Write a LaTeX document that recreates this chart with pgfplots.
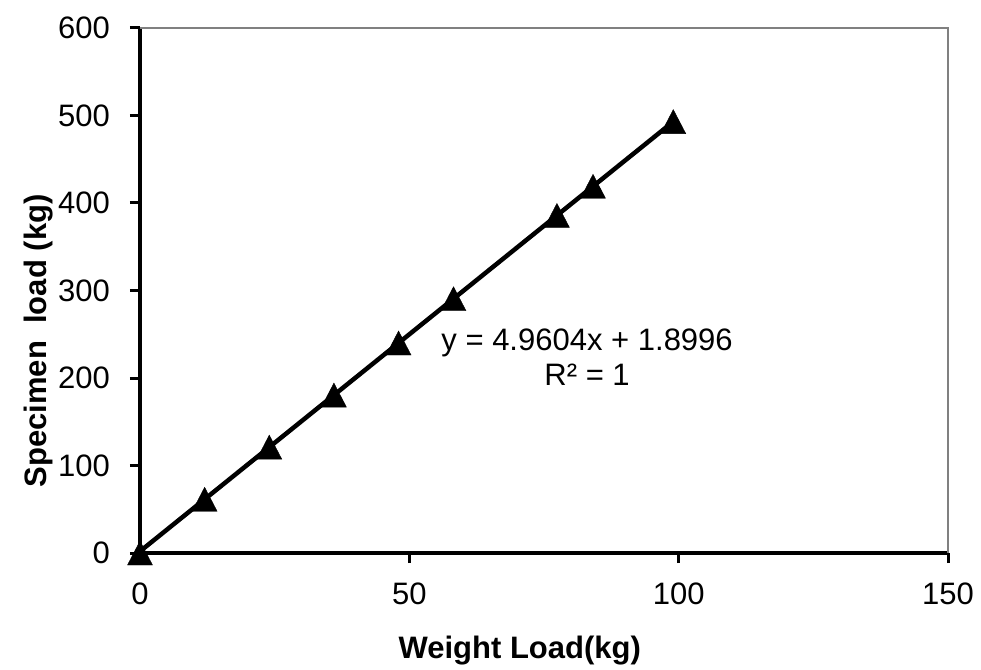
\documentclass[border=0pt]{standalone}
\usepackage{pgfplots}
\pgfplotsset{compat=1.18}
\usepackage{fontspec}
\setmainfont{Liberation Sans}
\definecolor{framegray}{RGB}{128,128,128}
\begin{document}
\begin{tikzpicture}
\useasboundingbox (-140pt,-116pt) rectangle (841pt,553pt);
\begin{axis}[
  at={(0pt,0pt)}, anchor=south west,
  scale only axis, width=808pt, height=525pt,
  xmin=0, xmax=150, ymin=0, ymax=600,
  xtick={0,50,100,150}, ytick={0,100,200,300,400,500,600},
  axis lines*=left,
  axis line style={line width=3.5pt, black},
  tick align=outside,
  major tick length=10pt,
  every tick/.style={black, line width=3pt},
  /pgf/number format/assume math mode=true,
  tick label style={font=\fontsize{31}{36}\selectfont},
  xticklabel style={anchor=north, inner sep=0pt, yshift=-20pt},
  every y tick label/.append style={anchor=east, inner sep=0pt, xshift=-20pt},
  xlabel={Weight Load(kg)},
  ylabel={Specimen\ \ load (kg)},
  label style={font=\bfseries\fontsize{31}{36}\selectfont},
  xlabel style={at={(axis description cs:0.47,-0.185)}, anchor=center},
  ylabel style={at={(axis description cs:-0.126,0.404)}, anchor=center},
  clip=false,
]
\draw[framegray, line width=2pt] (rel axis cs:0,1) -- (rel axis cs:1,1) -- (rel axis cs:1,0);
\addplot[black, line width=4.5pt, no marks] coordinates {(0,1.8996) (99,492.98)};
\addplot[only marks, mark=triangle*, mark size=16pt, mark options={black, fill=black, yshift=-4pt, xscale=0.9}] coordinates {
(0,0) (12,61.4) (24,121) (36,180.5) (48,240) (58.2,290.6) (77.4,385.8) (84.1,419.1) (99,493)
};
\node[align=center, font=\fontsize{31}{35}\selectfont, inner sep=0pt] at (axis cs:83,224) {y = 4.9604x + 1.8996\\R² = 1};
\end{axis}
\end{tikzpicture}
\end{document}
